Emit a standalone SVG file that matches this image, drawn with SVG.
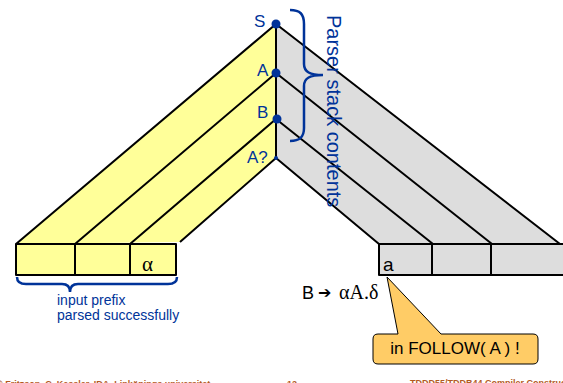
<svg xmlns="http://www.w3.org/2000/svg" width="563" height="383" viewBox="0 0 563 383">
<style>
.ln{stroke:#000;stroke-width:2;fill:none;stroke-linejoin:round}
.yl{fill:#ffff99}
.gr{fill:#dddddd}
.bl{fill:#003399;font-family:"Liberation Sans",Arial,sans-serif}
.blk{fill:#000;font-family:"Liberation Sans",Arial,sans-serif}
.ser{fill:#000;font-family:"Liberation Serif","Times New Roman",serif}
.ft{fill:#b35a1f;font-family:"Liberation Sans",Arial,sans-serif;font-size:9px;font-weight:bold}
.br{stroke:#003399;stroke-width:2.5;fill:none}
</style>
<rect width="563" height="383" fill="#fff"/>
<g id="stack-left">
<polygon class="yl" points="276,24 276,158 180,242 16,244"/>
<path class="ln" d="M276,24 L16,244 M276,73 L75,244 M276,119 L130,244 M276,158 L180,242"/>
</g>
<g id="stack-right">
<polygon class="gr" points="276,24 560,244 379,244 276,158"/>
<path class="ln" d="M276,24 L560,244 M276,73 L492,244 M276,119 L433,244 M276,158 L379,244"/>
</g>
<g id="stack-axis">
<line class="ln" x1="276" y1="24" x2="276" y2="158"/>
</g>
<g id="input-left">
<rect class="yl" x="16" y="244" width="160" height="31"/>
<path class="ln" d="M16,244 H176 V275 H16 Z M75,244 V275 M130,244 V275"/>
<text class="ser" x="142" y="271" font-size="21">α</text>
</g>
<g id="input-right">
<rect class="gr" x="379" y="244" width="190" height="31"/>
<path class="ln" d="M379,244 H569 V275 H379 Z M432,244 V275 M491,244 V275"/>
<text class="blk" x="383" y="271" font-size="19">a</text>
</g>
<g id="stack-labels">
<circle cx="276" cy="24" r="4.5" fill="#003399"/>
<circle cx="276" cy="73" r="4.5" fill="#003399"/>
<circle cx="277" cy="119" r="4.5" fill="#003399"/>
<circle cx="276" cy="158" r="2" fill="#003399"/>
<text class="bl" x="254" y="27" font-size="17">S</text>
<text class="bl" x="257" y="76" font-size="17">A</text>
<text class="bl" x="257" y="118" font-size="17">B</text>
<text class="bl" x="247" y="163" font-size="17">A?</text>
</g>
<g id="stack-brace">
<path class="br" d="M290,10 C300,10 304,14 304,24 L304,64 C304,72 310,75 323,75 C310,75 304,78 304,86 L304,128 C304,137 300,141 290,141"/>
<text class="bl" font-size="20" transform="translate(327,15) rotate(90)">Parser stack contents</text>
</g>
<g id="prefix-brace">
<path class="br" d="M17,277 C17,282 20,284 26,284 L62,284 C68,284 70,287 70,292 C70,287 72,284 78,284 L168,284 C174,284 177,282 177,277"/>
<text class="bl" x="57" y="305" font-size="14">input prefix</text>
<text class="bl" x="57" y="320" font-size="14">parsed successfully</text>
</g>
<g id="production">
<text class="blk" x="302" y="299" font-size="18">B</text>
<text class="blk" x="318" y="298" font-size="16" font-family="'DejaVu Sans',sans-serif">➔</text>
<text class="ser" x="339" y="299" font-size="20">αA.δ</text>
</g>
<g id="callout">
<path d="M380,334 H398 L387,277 L441,334 H533 Q538,334 538,339 V359 Q538,364 533,364 H378 Q373,364 373,359 V339 Q373,334 378,334 Z" fill="#ffcc66" stroke="#000" stroke-width="1"/>
<text class="blk" x="455" y="354" font-size="17" text-anchor="middle">in FOLLOW( A ) !</text>
</g>
<g id="footer">
<text class="ft" x="-4" y="387">© Fritzson, C. Kessler, IDA, Linköpings universitet</text>
<text class="ft" x="287" y="387">12</text>
<text class="ft" x="410" y="386">TDDD55/TDDB44 Compiler Construction</text>
</g>
</svg>
